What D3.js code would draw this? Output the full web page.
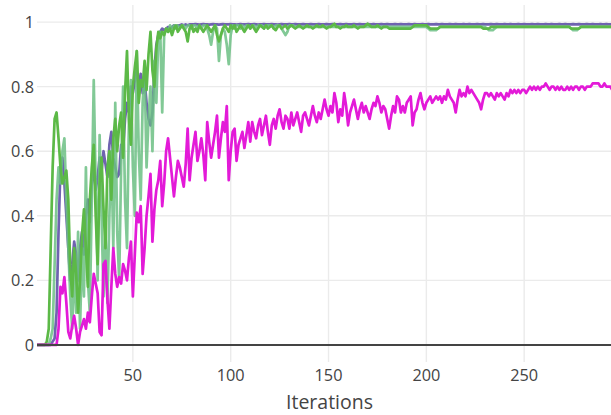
<!DOCTYPE html>
<html><head><meta charset="utf-8">
<script src="https://cdn.jsdelivr.net/npm/d3@7"></script>
<style>body{margin:0;background:#fff}svg{display:block;font-family:"Open Sans",sans-serif}</style>
</head><body><svg id="c" width="611" height="415"></svg>
<script>
const xTicks=[50,100,150,200,250];
const yTicks=[0,0.2,0.4,0.6,0.8,1];
const yTickLabels=["0","0.2","0.4","0.6","0.8","1"];
const xTitle="Iterations";

const magenta=[0,0,0,0,0,0,0,0,0,0,0,
0.05,0.18,0.16,0.21,0.13,0.04,0.02,0.06,0.09,0.05,
0.00,0.04,0.06,0.08,0.05,0.10,0.07,0.15,0.22,0.19,
0.16,0.04,0.03,0.25,0.26,0.14,0.05,0.18,0.30,0.22,
0.18,0.21,0.19,0.25,0.23,0.20,0.27,0.32,0.15,0.28,
0.41,0.38,0.43,0.22,0.30,0.40,0.46,0.53,0.32,0.42,
0.48,0.51,0.57,0.43,0.50,0.60,0.64,0.58,0.52,0.46,
0.52,0.57,0.55,0.52,0.49,0.56,0.67,0.51,0.58,0.62,
0.66,0.57,0.60,0.64,0.59,0.51,0.69,0.63,0.58,0.62,
0.66,0.71,0.58,0.64,0.69,0.66,0.74,0.51,0.60,0.66,
0.67,0.57,0.62,0.64,0.66,0.61,0.65,0.69,0.63,0.69,
0.66,0.64,0.68,0.70,0.65,0.68,0.71,0.66,0.62,0.68,
0.70,0.67,0.71,0.73,0.69,0.67,0.71,0.70,0.67,0.72,
0.68,0.70,0.72,0.69,0.66,0.71,0.72,0.70,0.68,0.71,
0.74,0.71,0.69,0.72,0.70,0.73,0.76,0.73,0.71,0.74,
0.72,0.78,0.75,0.69,0.73,0.71,0.78,0.74,0.68,0.72,
0.74,0.76,0.73,0.70,0.73,0.75,0.72,0.74,0.72,0.70,
0.73,0.75,0.74,0.77,0.75,0.72,0.74,0.73,0.70,0.67,
0.71,0.74,0.72,0.77,0.76,0.72,0.74,0.72,0.75,0.76,
0.77,0.68,0.72,0.73,0.76,0.78,0.75,0.73,0.75,0.76,
0.77,0.75,0.76,0.77,0.76,0.77,0.75,0.77,0.76,0.79,
0.77,0.76,0.75,0.72,0.76,0.79,0.77,0.78,0.77,0.80,
0.78,0.79,0.78,0.77,0.76,0.75,0.73,0.76,0.78,0.78,
0.77,0.78,0.77,0.76,0.78,0.77,0.78,0.77,0.76,0.78,
0.77,0.79,0.78,0.79,0.78,0.79,0.78,0.79,0.79,0.78,
0.79,0.80,0.79,0.80,0.79,0.80,0.79,0.80,0.80,0.81,
0.80,0.79,0.80,0.80,0.79,0.80,0.79,0.80,0.79,0.79,
0.80,0.79,0.80,0.79,0.80,0.80,0.79,0.80,0.80,0.79,
0.80,0.80,0.80,0.81,0.81,0.81,0.81,0.80,0.80,0.81,
0.80,0.80,0.80,0.79,0.80,0.80,0.79,0.80,0.80];

const green=[0,0,0,0,0,0.01,0.05,0.30,0.55,0.70,
0.72,0.64,0.55,0.50,0.52,0.54,0.45,0.24,0.15,0.30,
0.22,0.10,0.20,0.34,0.42,0.30,0.18,0.45,0.55,0.62,
0.40,0.25,0.50,0.58,0.42,0.30,0.55,0.60,0.45,0.64,
0.70,0.60,0.68,0.72,0.58,0.78,0.91,0.70,0.62,0.80,
0.86,0.91,0.75,0.82,0.80,0.88,0.79,0.90,0.97,0.85,
0.80,0.92,0.97,0.95,0.97,0.96,0.98,0.97,0.98,0.96,
0.98,0.99,0.97,0.98,0.99,0.98,0.97,0.94,0.98,0.99,
0.97,0.98,0.97,0.99,0.98,0.97,0.98,0.99,0.98,0.97,
0.98,0.99,0.96,0.94,0.96,0.98,0.99,0.98,0.97,0.99,
0.98,0.99,0.97,0.98,0.99,0.98,0.97,0.98,0.99,0.98,
0.99,0.98,0.97,0.98,0.99,0.985,0.98,0.99,0.98,0.985,
0.99,0.98,0.975,0.985,0.99,0.98,0.985,0.99,0.98,0.985,
0.99,0.985,0.98,0.985,0.99,0.985,0.98,0.985,0.99,0.985,
0.985,0.98,0.985,0.99,0.985,0.985,0.99,0.985,0.98,0.985,
0.985,0.99,0.995,0.985,0.985,0.98,0.985,0.985,0.99,0.985,
0.985,0.985,0.99,0.985,0.98,0.985,0.985,0.985,0.99,0.995,
0.99,0.985,0.985,0.985,0.99,0.985,0.98,0.985,0.985,0.985,
0.98,0.98,0.98,0.98,0.98,0.98,0.98,0.98,0.98,0.98,
0.98,0.98,0.985,0.99,0.99,0.99,0.99,0.99,0.99,0.99,
0.985,0.98,0.98,0.98,0.98,0.98,0.985,0.985,0.985,0.985,
0.985,0.985,0.985,0.985,0.985,0.985,0.985,0.985,0.985,0.985,
0.985,0.985,0.985,0.985,0.985,0.985,0.985,0.985,0.98,0.98,
0.98,0.98,0.985,0.985,0.985,0.985,0.985,0.985,0.985,0.985,
0.985,0.985,0.985,0.985,0.985,0.985,0.985,0.985,0.985,0.985,
0.985,0.985,0.985,0.985,0.985,0.985,0.985,0.985,0.985,0.985,
0.985,0.985,0.985,0.985,0.985,0.985,0.985,0.985,0.985,0.985,
0.985,0.985,0.985,0.98,0.98,0.98,0.98,0.98,0.985,0.985,
0.985,0.985,0.985,0.985,0.985,0.985,0.985,0.985,0.985,0.985,
0.985,0.985,0.985,0.985,0.985,0.985,0.985,0.985,0.985,0.985];

const lightGreen=[0,0,0,0,0,0,0,0.02,0.05,0.25,
0.45,0.55,0.50,0.60,0.64,0.45,0.30,0.15,0.05,0.25,
0.10,0.35,0.05,0.30,0.15,0.55,0.20,0.10,0.45,0.82,
0.50,0.20,0.65,0.40,0.15,0.35,0.13,0.40,0.60,0.30,
0.75,0.35,0.20,0.55,0.80,0.45,0.30,0.70,0.82,0.55,
0.40,0.91,0.60,0.45,0.75,0.85,0.55,0.70,0.80,0.60,
0.88,0.75,0.95,0.97,0.72,0.96,0.98,0.97,0.99,0.98,
0.99,0.98,0.99,0.98,0.99,0.99,0.98,0.99,0.99,0.98,
0.99,0.99,0.98,0.99,0.98,0.99,0.99,0.98,0.96,0.93,
0.97,0.99,0.98,0.88,0.96,0.98,0.97,0.93,0.87,0.96,
0.99,0.98,0.99,0.99,0.98,0.99,0.98,0.99,0.99,0.98,
0.99,0.99,0.98,0.99,0.99,0.99,0.98,0.99,0.99,0.99,
0.99,0.98,0.99,0.99,0.99,0.98,0.97,0.96,0.97,0.99,
0.99,0.99,0.985,0.985,0.985,0.985,0.985,0.985,0.985,0.985,
0.985,0.985,0.985,0.985,0.985,0.985,0.985,0.985,0.985,0.985,
0.985,0.985,0.985,0.985,0.985,0.985,0.985,0.985,0.985,0.985,
0.985,0.985,0.985,0.985,0.985,0.985,0.985,0.985,0.985,0.985,
0.985,0.985,0.985,0.985,0.985,0.985,0.985,0.985,0.985,0.985,
0.985,0.985,0.985,0.985,0.985,0.985,0.985,0.985,0.985,0.985,
0.985,0.985,0.985,0.985,0.985,0.985,0.985,0.985,0.985,0.985,
0.98,0.975,0.975,0.975,0.975,0.98,0.985,0.985,0.985,0.985,
0.985,0.985,0.985,0.985,0.985,0.985,0.985,0.985,0.985,0.985,
0.985,0.985,0.985,0.985,0.985,0.985,0.985,0.985,0.985,0.985,
0.98,0.975,0.975,0.975,0.98,0.985,0.985,0.985,0.985,0.985,
0.985,0.985,0.985,0.985,0.985,0.985,0.985,0.985,0.985,0.985,
0.985,0.985,0.985,0.985,0.985,0.985,0.985,0.985,0.985,0.985,
0.985,0.985,0.985,0.985,0.985,0.985,0.985,0.985,0.985,0.985,
0.985,0.985,0.985,0.98,0.975,0.975,0.975,0.98,0.985,0.985,
0.985,0.985,0.985,0.985,0.985,0.985,0.985,0.985,0.985,0.985,
0.985,0.985,0.985,0.985,0.985,0.985,0.985,0.985,0.985,0.985];

const purple=[0,0,0,0,0,0,0,0,0.01,0.02,
0.10,0.35,0.55,0.58,0.50,0.40,0.30,0.20,0.25,0.32,
0.28,0.20,0.30,0.35,0.28,0.40,0.45,0.38,0.50,0.55,
0.48,0.52,0.58,0.54,0.60,0.56,0.52,0.62,0.66,0.58,
0.55,0.52,0.53,0.62,0.60,0.70,0.75,0.72,0.80,0.78,
0.82,0.85,0.80,0.84,0.78,0.82,0.75,0.70,0.68,0.72,
0.85,0.93,0.96,0.97,0.98,0.975,0.98,0.985,0.98,0.985,
0.99,0.985,0.99,0.99,0.993,0.99,0.993,0.99,0.993,0.993,
0.993,0.994,0.993,0.992,0.993,0.994,0.993,0.993,0.992,0.993,
0.994,0.993,0.993,0.992,0.993,0.994,0.993,0.993,0.993,0.994,
0.993,0.993,0.992,0.993,0.994,0.993,0.993,0.993,0.994,0.993,
0.993,0.994,0.993,0.992,0.993,0.993,0.994,0.993,0.993,0.993,
0.994,0.993,0.993,0.992,0.993,0.994,0.993,0.993,0.993,0.994,
0.993,0.993,0.994,0.993,0.993,0.993,0.994,0.993,0.993,0.993,
0.994,0.993,0.993,0.993,0.994,0.993,0.993,0.993,0.994,0.993,
0.993,0.994,0.993,0.993,0.993,0.994,0.993,0.993,0.994,0.993,
0.993,0.993,0.994,0.993,0.993,0.994,0.993,0.993,0.993,0.994,
0.993,0.993,0.994,0.993,0.993,0.993,0.994,0.993,0.993,0.994,
0.993,0.993,0.993,0.994,0.993,0.993,0.994,0.993,0.993,0.993,
0.994,0.993,0.993,0.994,0.993,0.993,0.993,0.994,0.993,0.993,
0.994,0.993,0.993,0.993,0.994,0.993,0.993,0.994,0.993,0.993,
0.993,0.994,0.993,0.993,0.994,0.993,0.993,0.993,0.994,0.993,
0.993,0.994,0.993,0.993,0.993,0.994,0.993,0.993,0.994,0.993,
0.993,0.993,0.994,0.993,0.993,0.994,0.993,0.993,0.993,0.994,
0.993,0.993,0.994,0.993,0.993,0.993,0.994,0.993,0.993,0.994,
0.993,0.993,0.993,0.994,0.993,0.993,0.994,0.993,0.993,0.993,
0.994,0.993,0.993,0.994,0.993,0.993,0.993,0.994,0.993,0.993,
0.994,0.993,0.993,0.993,0.994,0.993,0.993,0.994,0.993,0.993,
0.993,0.994,0.993,0.993,0.994,0.993,0.993,0.993,0.994,0.993,
0.993,0.994,0.993,0.993,0.993,0.994,0.993,0.993,0.994,0.993];

const iterations=d3.range(1,magenta.length+1);

const svg=d3.select("#c");
const pL=37,pR=622,pT=5,pB=362;
const x=d3.scaleLinear().domain([1,300]).range([pL,pR]);
const y=d3.scaleLinear().domain([-0.053,1.053]).range([pB,pT]);

svg.append("defs").append("clipPath").attr("id","clip")
  .append("rect").attr("x",pL).attr("y",pT).attr("width",pR-pL).attr("height",pB-pT);

const grid=svg.append("g");
grid.selectAll("line.vx").data(xTicks).join("line")
  .attr("x1",d=>x(d)).attr("x2",d=>x(d)).attr("y1",pT).attr("y2",pB)
  .attr("stroke","#ebebeb").attr("stroke-width",1.4);
grid.selectAll("line.hy").data(yTicks.filter(d=>d!==0)).join("line")
  .attr("x1",pL).attr("x2",pR).attr("y1",d=>y(d)).attr("y2",d=>y(d))
  .attr("stroke","#ebebeb").attr("stroke-width",1.4);

const series=[
  {v:purple,c:"#6f63b0",o:1},
  {v:lightGreen,c:"#6cbf84",o:0.85},
  {v:green,c:"#5cb947",o:1},
  {v:magenta,c:"#e31ad8",o:1}
];
const line=d3.line().x((d,i)=>x(iterations[i])).y(d=>y(d));
const lg=svg.append("g").attr("clip-path","url(#clip)");
series.forEach(s=>{
  lg.append("path").attr("d",line(s.v)).attr("fill","none")
    .attr("stroke",s.c).attr("stroke-opacity",s.o).attr("stroke-width",2.7)
    .attr("stroke-linejoin","round").attr("stroke-linecap","round");
});

svg.append("line").attr("x1",pL).attr("x2",pR).attr("y1",y(0)).attr("y2",y(0))
  .attr("stroke","#444").attr("stroke-width",2);

svg.append("g").selectAll("text").data(yTicks).join("text")
  .attr("x",34).attr("y",d=>y(d)).attr("dy","0.36em").attr("text-anchor","end")
  .attr("font-size",16.3).attr("fill","#444").text((d,i)=>yTickLabels[i]);
svg.append("g").selectAll("text").data(xTicks).join("text")
  .attr("x",d=>x(d)).attr("y",381).attr("text-anchor","middle")
  .attr("font-size",16.3).attr("fill","#444").text(d=>d);
svg.append("text").attr("x",(pL+pR)/2).attr("y",409).attr("text-anchor","middle")
  .attr("font-size",19.5).attr("fill","#444").text(xTitle);
</script></body></html>
